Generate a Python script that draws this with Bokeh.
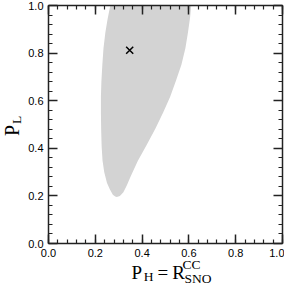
from bokeh.plotting import figure
from bokeh.models import Range1d, FixedTicker, LinearAxis, Div
from bokeh.layouts import row, column
from bokeh.embed import file_html
from bokeh.resources import INLINE

# ---- data ----
region_x = [0.264, 0.252, 0.243, 0.235, 0.230, 0.226, 0.224, 0.224, 0.225, 0.227,
            0.231, 0.238, 0.250, 0.262, 0.275, 0.285, 0.292,
            0.305, 0.320, 0.335, 0.351, 0.382, 0.420, 0.457, 0.490, 0.520,
            0.545, 0.568, 0.585, 0.596, 0.605, 0.610]
region_y = [1.000, 0.940, 0.887, 0.820, 0.750, 0.680, 0.617, 0.550, 0.480, 0.410,
            0.348, 0.300, 0.254, 0.228, 0.205, 0.197, 0.195,
            0.200, 0.215, 0.245, 0.282, 0.348, 0.415, 0.483, 0.550, 0.617,
            0.685, 0.751, 0.820, 0.887, 0.950, 1.000]
best_x = [0.347]
best_y = [0.812]
major_ticks = [0.0, 0.2, 0.4, 0.6, 0.8, 1.0]
minor_ticks = [i * 0.04 for i in range(26)]
tick_labels = ["0.0", "0.2", "0.4", "0.6", "0.8", "1.0"]
xlabel_parts = ["P", "H", "=", "R", "CC", "SNO"]
ylabel_parts = ["P", "L"]

YW = 22          # width of the y-label column
FIG_W, FIG_H = 262, 261
XL_H = 284 - FIG_H

p = figure(width=FIG_W, height=FIG_H, output_backend="svg", toolbar_location=None,
           x_range=Range1d(0, 1), y_range=Range1d(0, 1),
           min_border_left=26, min_border_right=2, min_border_top=5, min_border_bottom=18,
           x_axis_location=None, y_axis_location=None)
p.outline_line_color = None
p.xgrid.visible = False
p.ygrid.visible = False
p.background_fill_color = "white"
p.border_fill_color = "white"

p.patch(region_x, region_y, fill_color="#d3d3d3", line_color=None)
p.scatter(best_x, best_y, marker="x", size=10, line_color="black", line_width=1.5)

overrides = {t: l for t, l in zip(major_ticks, tick_labels)}

def make_axis(show_labels):
    ax = LinearAxis(ticker=FixedTicker(ticks=major_ticks, minor_ticks=minor_ticks))
    ax.axis_line_color = "#222222"
    ax.axis_line_width = 1.5
    ax.major_tick_line_color = "#222222"
    ax.major_tick_line_width = 1.5
    ax.minor_tick_line_color = "#222222"
    ax.minor_tick_line_width = 1.2
    ax.major_tick_in = 9
    ax.major_tick_out = 0
    ax.minor_tick_in = 4
    ax.minor_tick_out = 0
    if show_labels:
        ax.major_label_overrides = overrides
        ax.major_label_text_font = "Liberation Sans"
        ax.major_label_text_font_size = "11px"
        ax.major_label_text_color = "black"
        ax.major_label_standoff = 5
    else:
        ax.major_label_text_font_size = "0px"
        ax.major_label_text_color = None
        ax.major_label_standoff = 0
    return ax

p.add_layout(make_axis(True), "below")
p.add_layout(make_axis(True), "left")
p.add_layout(make_axis(False), "above")
p.add_layout(make_axis(False), "right")

ASC = 0.8375  # baseline offset (em) of Liberation Serif with line-height 1

def span(text, left, top, size, rotate=False):
    st = (f"position:absolute;left:{left:.2f}px;top:{top:.2f}px;font-family:'Liberation Serif';"
          f"font-size:{size}px;line-height:1;white-space:nowrap;color:#000;")
    if rotate:
        st += "transform-origin:0 0;transform:rotate(-90deg);"
    return f'<span style="{st}">{text}</span>'

# x label pieces: (origin x, baseline y, font px) in page pixels
xpos = {"P": (131.5, 279, 19), "H": (143.8, 281.6, 13.5), "=": (157.5, 279, 19),
        "R": (172.2, 279, 19), "CC": (182.5, 269.2, 13.5), "SNO": (184.5, 283.5, 13.5)}
xhtml = "".join(span(t, xpos[t][0] - YW, xpos[t][1] - ASC * xpos[t][2] - FIG_H, xpos[t][2])
                for t in xlabel_parts)
xdiv = Div(text=f'<div style="position:relative;width:{FIG_W}px;height:{XL_H}px;">{xhtml}</div>',
           width=FIG_W, height=XL_H, margin=(0, 0, 0, 0), styles={"overflow": "visible"})

# y label pieces: (baseline x, start y, font px); text reads bottom to top
ypos = {"P": (18.5, 135.5, 20), "L": (21.5, 123.5, 13.5)}
yhtml = "".join(span(t, ypos[t][0] - ASC * ypos[t][2], ypos[t][1], ypos[t][2], rotate=True)
                for t in ylabel_parts)
ydiv = Div(text=f'<div style="position:relative;width:{YW}px;height:{FIG_H}px;">{yhtml}</div>',
           width=YW, height=FIG_H, margin=(0, 0, 0, 0), styles={"overflow": "visible"})

layout = row(ydiv, column(p, xdiv, spacing=0), spacing=0)
open("out.html", "w").write(file_html(layout, INLINE))
